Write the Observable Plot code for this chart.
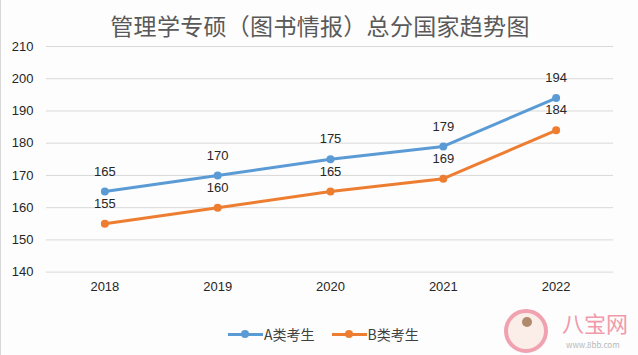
<!DOCTYPE html>
<html>
<head>
<meta charset="utf-8">
<script src="https://cdn.jsdelivr.net/npm/d3@7"></script>
<script src="https://cdn.jsdelivr.net/npm/@observablehq/plot@0.6"></script>
<style>
  html, body { margin: 0; padding: 0; background: #fdfdfd; }
  #wrap { position: relative; width: 638px; height: 355px; overflow: hidden; box-sizing: border-box; border-left: 1px solid #d8d8d8; }
  #title { position: absolute; left: 0; top: 10px; width: 638px; text-align: center; font-family: "Noto Sans CJK SC", sans-serif; font-size: 23px; line-height: 30px; color: #595959; letter-spacing: 0.3px; }
  #chart { position: absolute; left: 0; top: 40px; }
  #legend { position: absolute; top: 324px; left: 227px; display: flex; align-items: center; font-family: "Noto Sans CJK SC", sans-serif; font-size: 14px; line-height: 20px; color: #404040; }
  .item { display: flex; align-items: center; margin-right: 17px; }
  .sw { position: relative; width: 35px; height: 3px; margin-right: 1px; }
  .sw i { position: absolute; left: 13px; top: -2.5px; width: 8px; height: 8px; border-radius: 50%; }
  #wm { position: absolute; left: 500px; top: 305px; width: 138px; height: 50px; font-family: "Noto Sans CJK SC", sans-serif; }
</style>
</head>
<body>
<div id="wrap">
  <div id="title"></div>
  <div id="chart"></div>
  <div id="legend"></div>
  <div id="wm">
    <div style="position:absolute;left:3px;top:4px;width:44px;height:44px;border-radius:50%;border:4px solid #f0a2b0;background:#fbeee8;box-sizing:border-box;"></div>
    <div style="position:absolute;left:21px;top:12px;width:10px;height:10px;border-radius:50%;background:#b08a6a;"></div>
    <div style="position:absolute;left:61px;top:4px;font-size:22px;line-height:26px;color:#f09aaa;">八宝网</div>
    <div style="position:absolute;left:65px;top:35px;font-size:8px;line-height:10px;color:#b8b8b8;">www.8bb.com</div>
  </div>
</div>
<script>
const titleText = "管理学专硕（图书情报）总分国家趋势图";
const years = ["2018", "2019", "2020", "2021", "2022"];
const seriesNames = ["A类考生", "B类考生"];
const seriesA = [165, 170, 175, 179, 194];
const seriesB = [155, 160, 165, 169, 184];
const colors = ["#5B9BD5", "#ED7D31"];
const yTicks = [140, 150, 160, 170, 180, 190, 200, 210];

document.getElementById("title").textContent = titleText;

const data = [];
years.forEach((y, i) => {
  data.push({year: y, value: seriesA[i], series: seriesNames[0]});
  data.push({year: y, value: seriesB[i], series: seriesNames[1]});
});

const chart = Plot.plot({
  width: 638,
  height: 270,
  marginTop: 6,
  marginBottom: 38,
  marginLeft: 45,
  marginRight: 25,
  style: {fontFamily: "'Liberation Sans', 'DejaVu Sans', sans-serif", fontSize: "13px", color: "#262626", background: "transparent"},
  x: {type: "band", domain: years, padding: 0, label: null},
  y: {domain: [140, 210], ticks: yTicks, label: null},
  color: {domain: seriesNames, range: colors},
  marks: [
    Plot.gridY(yTicks, {stroke: "#d9d9d9", strokeOpacity: 1, strokeWidth: 1}),
    Plot.axisY(yTicks, {tickSize: 0, tickPadding: 13, label: null, fontSize: 13}),
    Plot.axisX({tickSize: 0, tickPadding: 10, label: null, fontSize: 13}),
    Plot.line(data, {x: "year", y: "value", z: "series", stroke: "series", strokeWidth: 3}),
    Plot.dot(data, {x: "year", y: "value", fill: "series", r: 4}),
    Plot.text(data, {x: "year", y: "value", text: d => String(d.value), dy: -20, fill: "#262626", fontSize: 13})
  ]
});
document.getElementById("chart").appendChild(chart);

const legend = document.getElementById("legend");
seriesNames.forEach((name, i) => {
  const item = document.createElement("div");
  item.className = "item";
  const sw = document.createElement("div");
  sw.className = "sw";
  sw.style.background = colors[i];
  const dot = document.createElement("i");
  dot.style.background = colors[i];
  sw.appendChild(dot);
  const t = document.createElement("span");
  t.textContent = name;
  item.appendChild(sw);
  item.appendChild(t);
  legend.appendChild(item);
});
</script>
</body>
</html>
